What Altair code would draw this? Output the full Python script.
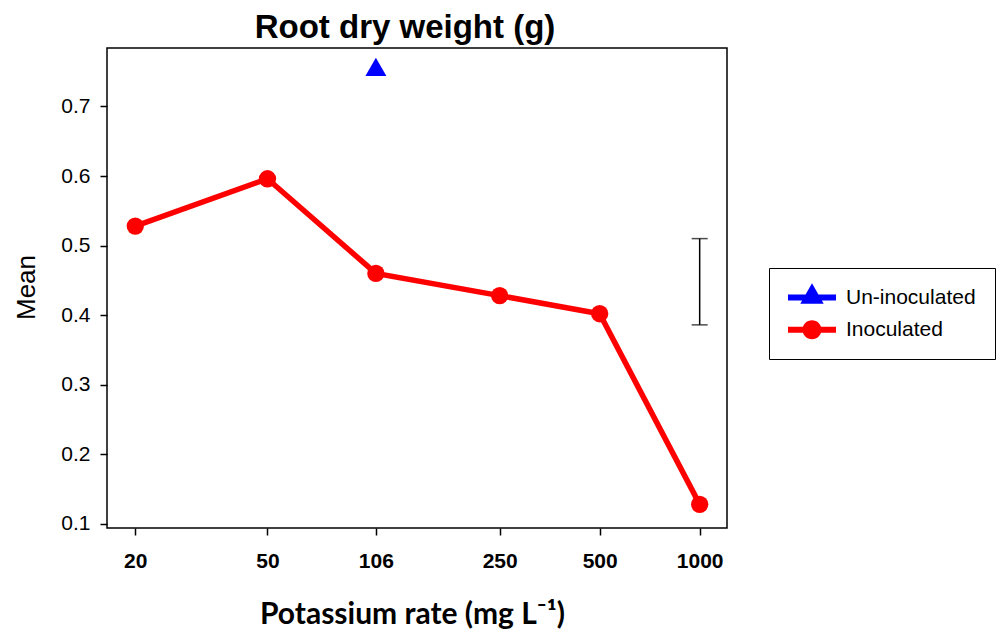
import altair as alt
import pandas as pd

# ---- data ----
rates = [20, 50, 106, 250, 500, 1000]
inoculated_mean = [0.528, 0.596, 0.460, 0.428, 0.402, 0.128]
uninoc_rate = [106]
uninoc_mean = [0.757]
err_rate = [1000]
err_low = [0.386]
err_high = [0.510]
series_names = ["Un-inoculated", "Inoculated"]
series_colors = ["blue", "red"]
x_tick_values = [20, 50, 106, 250, 500, 1000]
y_tick_values = [0.1, 0.2, 0.3, 0.4, 0.5, 0.6, 0.7]

FONT = "Liberation Sans, Arial, sans-serif"

df_in = pd.DataFrame({"rate": rates, "mean": inoculated_mean})
df_un = pd.DataFrame({"rate": uninoc_rate, "mean": uninoc_mean})
df_err = pd.DataFrame({"rate": err_rate, "low": err_low, "high": err_high})
df_cap = pd.DataFrame({"rate": err_rate * 2, "val": err_low + err_high})
df_leg = pd.DataFrame({"series": series_names})

xscale = alt.Scale(type="log", domain=[16.44, 1208.5], nice=False)
yscale = alt.Scale(domain=[0.094, 0.784], nice=False, zero=False)

xaxis = alt.Axis(
    values=x_tick_values,
    labelExpr="format(datum.value, 'd')",
    title="Potassium rate (mg L\u207b\u00b9)",
    labelFont=FONT, labelFontSize=21, labelFontWeight="bold", labelPadding=15,
    labelOverlap=False, labelFlush=False,
    tickSize=7, tickWidth=1.5, tickColor="black", labelColor="black",
    grid=False, domain=False,
    titleFont="Lato, Liberation Sans, sans-serif", titleFontSize=30, titleFontWeight="bold",
    titleColor="black", titleX=305, titleY=95, titleBaseline="alphabetic", titleAlign="center",
)
yaxis = alt.Axis(
    values=y_tick_values, format=".1f",
    title="Mean",
    labelFont=FONT, labelFontSize=21, labelFontWeight="normal", labelPadding=10,
    labelColor="black", tickSize=7, tickWidth=1.5, tickColor="black",
    grid=False, domain=False,
    titleFont=FONT, titleFontSize=26, titleFontWeight="normal", titleColor="black",
    titleAngle=270, titleX=-81, titleY=239, titleBaseline="middle", titleAlign="center",
)

x_enc = alt.X("rate:Q", scale=xscale, axis=xaxis)
y_enc = alt.Y("mean:Q", scale=yscale, axis=yaxis)

line = alt.Chart(df_in).mark_line(color="red", strokeWidth=5.5).encode(x=x_enc, y=y_enc)
pts = alt.Chart(df_in).mark_point(filled=True, color="red", size=300, opacity=1).encode(x=x_enc, y=y_enc)
tri = alt.Chart(df_un).mark_point(filled=True, color="blue", shape="triangle-up", size=441, opacity=1).encode(
    x=x_enc, y=y_enc)

err_rule = alt.Chart(df_err).mark_rule(color="black", strokeWidth=1.5).encode(
    x=alt.X("rate:Q", scale=xscale), y=alt.Y("low:Q", scale=yscale), y2="high:Q")
err_caps = alt.Chart(df_cap).mark_tick(color="black", orient="horizontal", size=16, thickness=1.5).encode(
    x=alt.X("rate:Q", scale=xscale), y=alt.Y("val:Q", scale=yscale))

# legend symbols: line with a marker (custom paths, unit = 10 px, shifted right by 1.35)
tri_path = "M-1.05,-0.3L3.75,-0.3L3.75,0.3L-1.05,0.3Z M1.35,-1.43L2.52,0.63L0.18,0.63Z"
circ_path = ("M-1.05,-0.3L3.75,-0.3L3.75,0.3L-1.05,0.3Z "
             "M0.4,0A0.95,0.95 0 1,1 2.3,0A0.95,0.95 0 1,1 0.4,0Z")

leg_kwargs = dict(
    title=None, orient="none", legendX=662, legendY=220,
    padding=19, strokeColor="black", fillColor="white",
    symbolSize=400, symbolStrokeWidth=0, symbolOpacity=1,
    labelOffset=37, labelFont=FONT, labelFontSize=21, labelColor="black",
    rowPadding=10.3, labelLimit=300,
)

# legend-only layer: marks of size 0, so only the legend shows
legend_layer = alt.Chart(df_leg).mark_point(filled=True, size=0).encode(
    color=alt.Color("series:N", scale=alt.Scale(domain=series_names, range=series_colors),
                    legend=alt.Legend(**leg_kwargs)),
    shape=alt.Shape("series:N", scale=alt.Scale(domain=series_names, range=[tri_path, circ_path]),
                    legend=alt.Legend(**leg_kwargs)),
)

chart = alt.layer(line, pts, tri, err_rule, err_caps, legend_layer).properties(
    width=620, height=480,
    autosize="none",
    background="white",
    padding={"left": 107, "top": 48, "right": 272, "bottom": 104},
    title=alt.Title("Root dry weight (g)", font=FONT, fontSize=33, fontWeight="bold",
                    color="black", anchor="middle", frame="group", dx=-12, offset=3),
).configure_view(stroke="black", strokeWidth=1.5)

chart.save("out.html", embed_options={"renderer": "svg", "actions": False})
